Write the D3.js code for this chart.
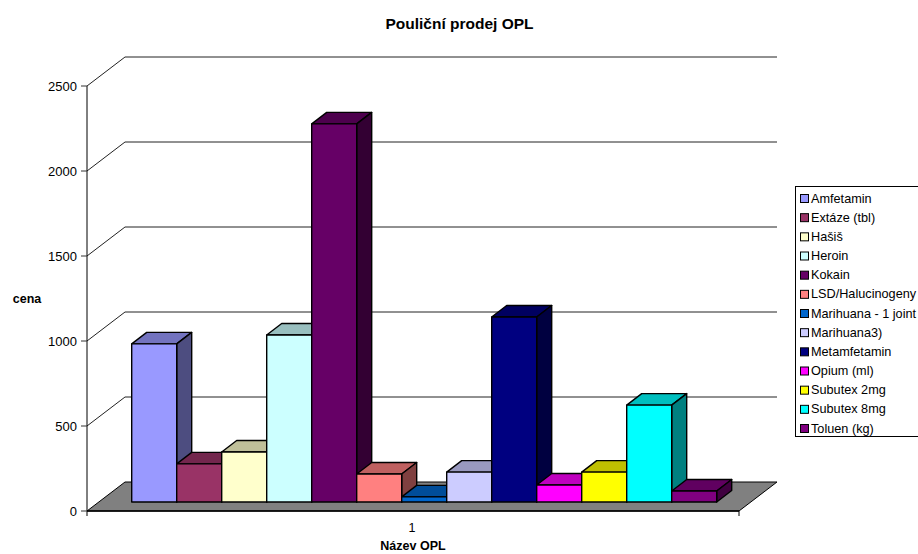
<!DOCTYPE html>
<html lang="en">
<head>
  <meta charset="UTF-8">
  <title>Pouliční prodej OPL</title>
  <script src="https://d3js.org/d3.v7.min.js"></script>
  <style>
    body { margin: 0; background: #fff; }
    svg { display: block; font-family: "Liberation Sans", Arial, sans-serif; fill: #000; }
    .bold { font-weight: bold; }
  </style>
</head>
<body>
  <svg id="chart" width="918" height="554"></svg>
  <script>
    const names = ['Amfetamin', 'Extáze (tbl)', 'Hašiš', 'Heroin', 'Kokain', 'LSD/Halucinogeny',
      'Marihuana - 1 joint', 'Marihuana3)', 'Metamfetamin', 'Opium (ml)', 'Subutex 2mg', 'Subutex 8mg', 'Toluen (kg)'];
    const prices = [930, 224, 294, 982, 2224, 165, 30, 176, 1088, 100, 176, 570, 65];
    const colors = ['#9999ff', '#993366', '#ffffcc', '#ccffff', '#660066', '#ff8080',
      '#0066cc', '#ccccff', '#000080', '#ff00ff', '#ffff00', '#00ffff', '#800080'];
    const yTicks = [0, 500, 1000, 1500, 2000, 2500];

    const svg = d3.select('#chart');
    const y = d3.scaleLinear().domain([0, 2500]).range([511, 86]);
    const x = d3.scaleBand().domain(names).range([131.7, 716.7]);

    // 3d offsets
    const wallDx = 38, wallDy = -29;     // front edge of floor to the back wall
    const barDx = 15, barDy = -11.5;     // depth of one bar
    const baseDy = -9;                   // bars stand a little behind the front edge
    const left = 87, right = 739;

    const pts = a => a.map(p => p.join(',')).join(' ');
    const shade = (c, k) => {
      const r = d3.rgb(c);
      return d3.rgb(r.r * k, r.g * k, r.b * k).formatHex();
    };

    // floor
    svg.append('polygon')
      .attr('points', pts([[left, y(0)], [right, y(0)], [right + wallDx, y(0) + wallDy], [left + wallDx, y(0) + wallDy]]))
      .attr('fill', '#808080').attr('stroke', '#000').attr('stroke-width', 1);
    svg.append('line')
      .attr('x1', left).attr('x2', right).attr('y1', y(0)).attr('y2', y(0))
      .attr('stroke', '#000').attr('stroke-width', 1.6);

    // grid lines on the side and back wall
    svg.append('g').selectAll('polyline')
      .data(yTicks.slice(1))
      .join('polyline')
      .attr('points', d => pts([[left, y(d)], [left + wallDx, y(d) + wallDy], [right + wallDx, y(d) + wallDy]]))
      .attr('fill', 'none').attr('stroke', '#222').attr('stroke-width', 1);

    // value axis
    svg.append('line')
      .attr('x1', left).attr('x2', left).attr('y1', y(2500)).attr('y2', y(0) + 5)
      .attr('stroke', '#000');
    svg.append('line')
      .attr('x1', right).attr('x2', right).attr('y1', y(0)).attr('y2', y(0) + 5)
      .attr('stroke', '#000');
    const tick = svg.append('g').selectAll('g').data(yTicks).join('g')
      .attr('transform', d => `translate(${left},${y(d)})`);
    tick.append('line').attr('x1', -6).attr('x2', 0).attr('stroke', '#333');
    tick.append('text').attr('x', -10).attr('y', 4.5)
      .attr('text-anchor', 'end').attr('font-size', 13).text(d => d);

    // bars, left to right so each one covers the side of the one before
    const bar = svg.append('g').selectAll('g')
      .data(names.map((n, i) => ({ name: n, value: prices[i], color: colors[i] })))
      .join('g')
      .attr('stroke', '#000').attr('stroke-width', 1.4).attr('stroke-linejoin', 'round');
    const w = x.bandwidth();
    const base = y(0) + baseDy;
    const topY = d => base - (y(0) - y(d.value));
    bar.append('polygon') // top
      .attr('fill', d => shade(d.color, 0.75))
      .attr('points', d => {
        const a = x(d.name), t = topY(d);
        return pts([[a, t], [a + w, t], [a + w + barDx, t + barDy], [a + barDx, t + barDy]]);
      });
    bar.append('polygon') // side
      .attr('fill', d => shade(d.color, 0.5))
      .attr('points', d => {
        const a = x(d.name) + w, t = topY(d);
        return pts([[a, t], [a + barDx, t + barDy], [a + barDx, base + barDy], [a, base]]);
      });
    bar.append('rect') // front
      .attr('fill', d => d.color)
      .attr('x', d => x(d.name)).attr('width', w)
      .attr('y', topY).attr('height', d => base - topY(d));

    // titles
    svg.append('text').attr('class', 'bold').attr('x', 459.5).attr('y', 29)
      .attr('text-anchor', 'middle').attr('font-size', 15.5).text('Pouliční prodej OPL');
    svg.append('text').attr('class', 'bold').attr('x', 27).attr('y', 303)
      .attr('text-anchor', 'middle').attr('font-size', 12.5).text('cena');
    svg.append('text').attr('x', 412).attr('y', 532)
      .attr('text-anchor', 'middle').attr('font-size', 12.5).text('1');
    svg.append('text').attr('class', 'bold').attr('x', 413).attr('y', 550)
      .attr('text-anchor', 'middle').attr('font-size', 12.5).text('Název OPL');

    // legend
    const legendY = d3.scalePoint().domain(names).range([198, 428]);
    svg.append('rect').attr('x', 795.5).attr('y', 186.5).attr('width', 130).attr('height', 250)
      .attr('fill', '#fff').attr('stroke', '#000');
    const item = svg.append('g').selectAll('g').data(names).join('g')
      .attr('transform', d => `translate(800,${legendY(d)})`);
    item.append('rect').attr('x', 0.5).attr('y', -3.5).attr('width', 8).attr('height', 8)
      .attr('fill', (d, i) => colors[i]).attr('stroke', '#000');
    item.append('text').attr('x', 11).attr('y', 4.5).attr('font-size', 12.7).text(d => d);
  </script>
</body>
</html>
